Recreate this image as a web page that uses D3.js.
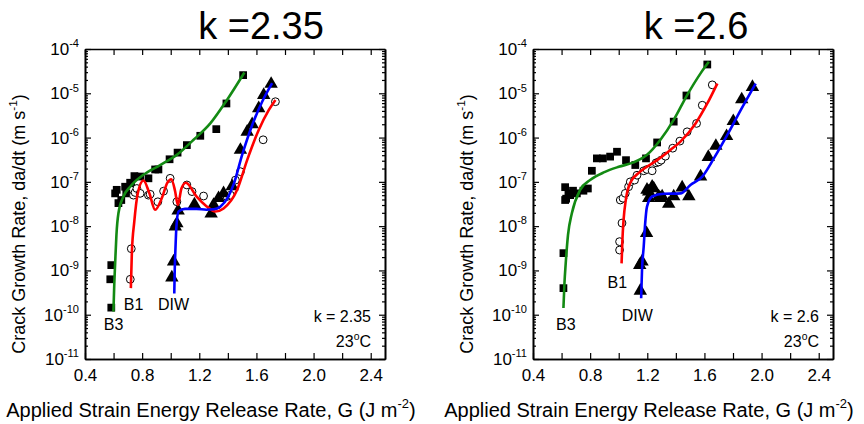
<!DOCTYPE html>
<html>
<head>
<meta charset="utf-8">
<script src="https://cdn.jsdelivr.net/npm/d3@7"></script>
<style>
  body { margin: 0; background: #fff; }
  text { font-family: "Liberation Sans", Arial, sans-serif; fill: #000; }
</style>
</head>
<body>
<div id="chart"></div>
<script>
// values are [G (J m^-2), log10 of da/dt (m s^-1)]
const b3Left = [[0.577,-9.20],[0.584,-8.88],[0.584,-9.84],[0.611,-7.26],[0.622,-7.18],[0.634,-7.48],[0.654,-7.41],
  [0.681,-7.11],[0.689,-7.26],[0.716,-7.02],[0.723,-7.03],[0.746,-6.87],[0.786,-6.88],[0.844,-6.92],[0.891,-6.72],
  [0.914,-6.72],[0.992,-6.49],[1.048,-6.34],[1.113,-6.17],[1.207,-5.96],[1.319,-5.81],[1.39,-5.23],[1.507,-4.59]]
const b1Left = [[0.717,-9.20],[0.724,-8.51],[0.739,-7.30],[0.751,-7.24],[0.763,-7.15],[0.786,-7.26],[0.844,-7.30],
  [0.856,-7.28],[0.91,-7.45],[0.95,-7.21],[0.996,-6.92],[1.043,-7.45],[1.113,-7.07],[1.149,-7.22],[1.23,-7.32],
  [1.394,-7.33],[1.418,-7.30],[1.453,-6.96],[1.488,-6.77],[1.647,-6.05],[1.733,-5.19]]
const diwLeft = [[1.008,-9.16],[1.02,-8.80],[1.032,-8.01],[1.043,-7.94],[1.052,-7.65],[1.166,-7.51],[1.283,-7.72],
  [1.30,-7.52],[1.335,-7.37],[1.37,-7.26],[1.43,-7.10],[1.488,-6.28],[1.535,-5.87],[1.57,-5.70],[1.616,-5.34],
  [1.651,-5.04],[1.703,-4.79]]
const b3FitLeft = [[0.599,-9.93],[0.605,-9.3],[0.611,-8.84],[0.62,-8.2],[0.634,-7.71],[0.669,-7.33],[0.716,-7.11],
  [0.809,-6.84],[0.926,-6.62],[1.043,-6.39],[1.16,-6.05],[1.277,-5.68],[1.394,-5.15],[1.516,-4.53]]
const b1FitLeft = [[0.721,-9.40],[0.728,-8.6],[0.745,-7.9],[0.77,-7.25],[0.809,-6.97],[0.85,-7.25],[0.891,-7.63],
  [0.94,-7.35],[0.975,-7.03],[1.004,-6.94],[1.03,-7.2],[1.05,-7.52],[1.075,-7.15],[1.106,-7.02],[1.18,-7.33],
  [1.25,-7.55],[1.312,-7.67],[1.37,-7.6],[1.465,-7.18],[1.535,-6.51],[1.616,-5.83],[1.686,-5.38],[1.733,-5.15]]
const diwFitLeft = [[1.025,-9.52],[1.028,-9.0],[1.032,-8.61],[1.040,-8.01],[1.055,-7.67],[1.10,-7.61],[1.18,-7.61],
  [1.25,-7.63],[1.30,-7.62],[1.347,-7.56],[1.40,-7.35],[1.441,-7.05],[1.50,-6.39],[1.57,-5.72],[1.64,-5.19],[1.71,-4.77]]

const b3Right = [[0.613,-9.40],[0.613,-8.61],[0.625,-7.41],[0.625,-7.12],[0.632,-7.38],[0.648,-7.26],[0.66,-7.30],
  [0.68,-7.20],[0.707,-7.26],[0.753,-7.20],[0.784,-7.15],[0.812,-6.75],[0.847,-6.47],[0.889,-6.47],[0.94,-6.43],
  [0.988,-6.32],[1.051,-6.51],[1.116,-6.62],[1.191,-6.47],[1.269,-6.11],[1.385,-5.64],[1.474,-5.05],[1.62,-4.35]]
const b1Right = [[1.006,-8.54],[1.006,-8.35],[1.023,-7.93],[1.011,-7.41],[1.03,-7.37],[1.046,-7.26],[1.069,-7.11],
  [1.081,-7.00],[1.111,-6.96],[1.128,-6.85],[1.175,-6.75],[1.198,-6.72],[1.234,-6.75],[1.262,-6.57],[1.28,-6.55],
  [1.297,-6.51],[1.327,-6.42],[1.378,-6.24],[1.428,-6.08],[1.479,-5.87],[1.545,-5.68],[1.585,-5.27],[1.655,-4.81]]
const diwRight = [[1.151,-9.46],[1.147,-8.88],[1.163,-8.80],[1.195,-8.16],[1.198,-7.18],[1.21,-7.37],[1.21,-7.22],
  [1.234,-7.11],[1.245,-7.15],[1.28,-7.33],[1.292,-7.37],[1.304,-7.33],[1.35,-7.50],[1.385,-7.33],[1.444,-7.13],
  [1.491,-7.33],[1.573,-6.88],[1.627,-6.44],[1.68,-6.19],[1.755,-5.97],[1.802,-5.63],[1.861,-5.14],[1.936,-4.86]]
const b3FitRight = [[0.613,-9.85],[0.62,-9.3],[0.629,-8.84],[0.645,-8.2],[0.672,-7.71],[0.73,-7.18],[0.80,-6.96],
  [0.90,-6.78],[1.0,-6.66],[1.104,-6.56],[1.198,-6.39],[1.292,-6.05],[1.385,-5.60],[1.479,-5.04],[1.573,-4.55],[1.631,-4.29]]
const b1FitRight = [[1.020,-8.84],[1.026,-8.3],[1.034,-7.86],[1.05,-7.40],[1.081,-7.02],[1.151,-6.77],[1.269,-6.51],
  [1.362,-6.28],[1.432,-6.09],[1.538,-5.68],[1.62,-5.23],[1.69,-4.78]]
const diwFitRight = [[1.157,-9.63],[1.163,-9.0],[1.175,-8.46],[1.185,-7.95],[1.198,-7.56],[1.234,-7.33],[1.315,-7.27],
  [1.432,-7.26],[1.502,-7.07],[1.585,-6.88],[1.666,-6.47],[1.76,-5.94],[1.854,-5.38],[1.959,-4.78]]

const gMajorTicks = [0.4, 0.8, 1.2, 1.6, 2.0, 2.4]
const gMinorTicks = [0.6, 1.0, 1.4, 1.8, 2.2]
const decades = [-11, -10, -9, -8, -7, -6, -5, -4]

const xAccessor = d => d[0]
const yAccessor = d => 10 ** d[1]

const dimensions = {
  width: 864,
  height: 424,
  top: 49,
  ctrWidth: 300,
  ctrHeight: 310,
}

const panels = [
  {
    left: 85, title: "k =2.35", titleX: 261, xLabelX: 211, kText: "k = 2.35",
    b3: b3Left, b1: b1Left, diw: diwLeft, b3Fit: b3FitLeft, b1Fit: b1FitLeft, diwFit: diwFitLeft,
    tags: [["B3", 0.60, -10.35], ["B1", 0.74, -9.9], ["DIW", 1.02, -9.9]],
  },
  {
    left: 533, title: "k =2.6", titleX: 696, xLabelX: 649, kText: "k = 2.6",
    b3: b3Right, b1: b1Right, diw: diwRight, b3Fit: b3FitRight, b1Fit: b1FitRight, diwFit: diwFitRight,
    tags: [["B3", 0.63, -10.35], ["B1", 0.99, -9.4], ["DIW", 1.13, -10.15]],
  },
]

const svg = d3.select("#chart")
  .append("svg")
  .attr("width", dimensions.width)
  .attr("height", dimensions.height)

function sup(text, base, exp, tail, size) {
  text.append("tspan").text(base)
  text.append("tspan").attr("dy", -size * 0.45).attr("font-size", size * 0.65).text(exp)
  if (tail) text.append("tspan").attr("dy", size * 0.45).text(tail)
}

panels.forEach(p => {
  const xScale = d3.scaleLinear().domain([0.4, 2.5]).range([0, dimensions.ctrWidth])
  const yScale = d3.scaleLog().domain([1e-11, 1e-4]).range([dimensions.ctrHeight, 0])

  const ctr = svg.append("g")
    .attr("transform", `translate(${p.left}, ${dimensions.top})`)

  // title
  svg.append("text")
    .attr("x", p.titleX)
    .attr("y", 39)
    .attr("text-anchor", "middle")
    .attr("font-size", 38)
    .text(p.title)

  // axes (ticks point inward)
  const minorY = []
  decades.slice(0, -1).forEach(e => { for (let m = 2; m < 10; m++) minorY.push(m * 10 ** e) })

  const xAxisGroup = ctr.append("g")
    .attr("transform", `translate(0, ${dimensions.ctrHeight})`)
    .call(d3.axisBottom(xScale).tickValues(gMajorTicks).tickSize(-6).tickSizeOuter(0)
      .tickPadding(10).tickFormat(d3.format(".1f")))
  xAxisGroup.selectAll("text").attr("font-size", 17).attr("font-family", "Liberation Sans, Arial, sans-serif")
  ctr.append("g")
    .attr("transform", `translate(0, ${dimensions.ctrHeight})`)
    .call(d3.axisBottom(xScale).tickValues(gMinorTicks).tickSize(-6).tickSizeOuter(0).tickFormat(""))
  ctr.append("g")
    .call(d3.axisTop(xScale).tickValues(gMajorTicks.concat(gMinorTicks)).tickSize(-6).tickSizeOuter(0).tickFormat(""))

  const yAxisGroup = ctr.append("g")
    .call(d3.axisLeft(yScale).tickValues(decades.map(e => 10 ** e)).tickSize(-6).tickSizeOuter(0).tickFormat(""))
  ctr.append("g")
    .call(d3.axisLeft(yScale).tickValues(minorY).tickSize(-3).tickSizeOuter(0).tickFormat(""))
  ctr.append("g")
    .attr("transform", `translate(${dimensions.ctrWidth}, 0)`)
    .call(d3.axisRight(yScale).tickValues(decades.map(e => 10 ** e)).tickSize(-6).tickSizeOuter(0).tickFormat(""))
  ctr.append("g")
    .attr("transform", `translate(${dimensions.ctrWidth}, 0)`)
    .call(d3.axisRight(yScale).tickValues(minorY).tickSize(-3).tickSizeOuter(0).tickFormat(""))

  ctr.selectAll(".domain").attr("stroke", "#000").attr("stroke-width", 1.6)
  ctr.selectAll(".tick line").attr("stroke", "#000").attr("stroke-width", 1.2)

  decades.forEach(e => {
    const t = yAxisGroup.append("text")
      .attr("x", -6)
      .attr("y", yScale(10 ** e) + 6)
      .attr("text-anchor", "end")
      .attr("font-size", 17)
    sup(t, "10", String(e), null, 17)
  })

  // axis titles
  const xl = svg.append("text")
    .attr("x", p.xLabelX)
    .attr("y", 417)
    .attr("text-anchor", "middle")
    .attr("font-size", 20)
  sup(xl, "Applied Strain Energy Release Rate, G (J m", "-2", ")", 20)

  const yl = ctr.append("text")
    .attr("transform", `translate(-60, ${dimensions.ctrHeight / 2 + 20}) rotate(-90)`)
    .attr("text-anchor", "middle")
    .attr("font-size", 18)
  sup(yl, "Crack Growth Rate, da/dt (m s", "-1", ")", 18)

  // data points
  const sym = (type, size) => d3.symbol().type(type).size(size)
  ctr.append("g").selectAll("path")
    .data(p.b3)
    .join("path")
    .attr("transform", d => `translate(${xScale(xAccessor(d))}, ${yScale(yAccessor(d))})`)
    .attr("d", sym(d3.symbolSquare, 60))
    .attr("fill", "#000")
  ctr.append("g").selectAll("path")
    .data(p.b1)
    .join("path")
    .attr("transform", d => `translate(${xScale(xAccessor(d))}, ${yScale(yAccessor(d))})`)
    .attr("d", sym(d3.symbolCircle, 48))
    .attr("fill", "#fff")
    .attr("stroke", "#000")
    .attr("stroke-width", 1)
  ctr.append("g").selectAll("path")
    .data(p.diw)
    .join("path")
    .attr("transform", d => `translate(${xScale(xAccessor(d))}, ${yScale(yAccessor(d))})`)
    .attr("d", sym(d3.symbolTriangle, 78))
    .attr("fill", "#000")

  // fitted curves
  const line = d3.line()
    .x(d => xScale(xAccessor(d)))
    .y(d => yScale(yAccessor(d)))
    .curve(d3.curveMonotoneX)
  const fits = [[p.b3Fit, "#138a13"], [p.b1Fit, "#ff0000"], [p.diwFit, "#0000ff"]]
  fits.forEach(([data, color]) => {
    ctr.append("path")
      .datum(data)
      .attr("d", line)
      .attr("fill", "none")
      .attr("stroke", color)
      .attr("stroke-width", 2.6)
  })

  // series tags
  p.tags.forEach(([label, g, r]) => {
    ctr.append("text")
      .attr("x", xScale(g))
      .attr("y", yScale(10 ** r))
      .attr("text-anchor", "middle")
      .attr("font-size", 16)
      .text(label)
  })

  ctr.append("text")
    .attr("x", dimensions.ctrWidth - 14)
    .attr("y", 273)
    .attr("text-anchor", "end")
    .attr("font-size", 16)
    .text(p.kText)
  const tc = ctr.append("text")
    .attr("x", dimensions.ctrWidth - 14)
    .attr("y", 298)
    .attr("text-anchor", "end")
    .attr("font-size", 16)
  sup(tc, "23", "o", "C", 16)
})
</script>
</body>
</html>
